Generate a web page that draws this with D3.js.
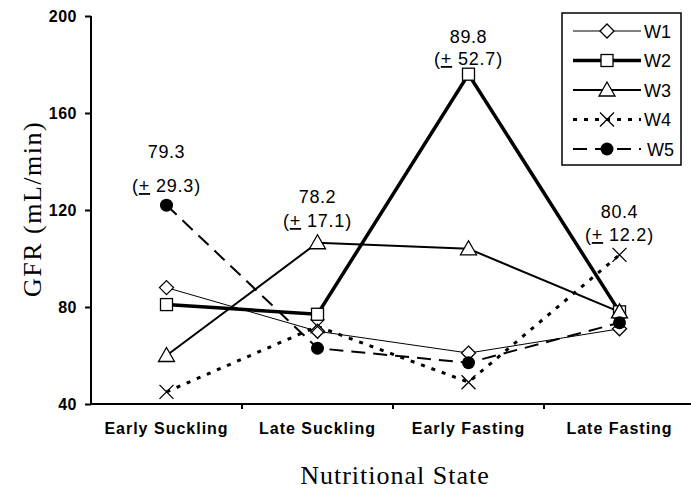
<!DOCTYPE html>
<html>
<head>
<meta charset="utf-8">
<script src="https://cdn.jsdelivr.net/npm/d3@7"></script>
<style>
  body { margin: 0; background: #fff; }
  svg { display: block; }
  .tick text { font-family: Arial, "Liberation Sans", sans-serif; font-weight: bold; }
</style>
</head>
<body>
<div id="chart"></div>
<script>
// Data
const categories = ["Early Suckling", "Late Suckling", "Early Fasting", "Late Fasting"];
const w1 = [88, 70, 61, 71];
const w2 = [81, 77, 176, 78];
const w3 = [60, 106.5, 104, 78];
const w4 = [45, 72, 49, 101.5];
const w5 = [122, 63, 57, 73.5];
const means = ["79.3", "78.2", "89.8", "80.4"];
const sds = ["29.3", "17.1", "52.7", "12.2"];
// GFR level of the label baselines (layout only)
const meanLabelAt = [141.4, 122.9, 188.9, 116.7];
const sdLabelAt = [127.4, 113, 179.8, 107.2];
const yTicks = [40, 80, 120, 160, 200];

const series = [
  { name: "W1", values: w1, width: 1, dash: null, marker: "diamond" },
  { name: "W2", values: w2, width: 3.5, dash: null, marker: "square" },
  { name: "W3", values: w3, width: 2, dash: null, marker: "triangle" },
  { name: "W4", values: w4, width: 3, dash: "4,7", marker: "x" },
  { name: "W5", values: w5, width: 2, dash: "14,8", marker: "circle" }
];

const width = 691, height = 492;
const plotLeft = 91, plotBottom = 404, plotTop = 16;

const svg = d3.select("#chart").append("svg")
  .attr("width", width)
  .attr("height", height);

const x = d3.scaleBand()
  .domain(categories)
  .range([plotLeft, plotLeft + 4 * 151]);

const y = d3.scaleLinear()
  .domain([40, 200])
  .range([plotBottom, plotTop]);

// Axes
const yAxis = svg.append("g")
  .attr("transform", `translate(${plotLeft},0)`)
  .call(d3.axisLeft(y).tickValues(yTicks).tickSize(6).tickPadding(8));
yAxis.select(".domain").attr("stroke-width", 2).attr("d", `M0,${plotBottom}V${plotTop}`);
yAxis.selectAll(".tick line").attr("stroke-width", 2);
yAxis.selectAll(".tick text")
  .attr("font-size", 16)
  .attr("letter-spacing", 0.5)
  .attr("fill", "#000");

const xAxis = svg.append("g")
  .attr("transform", `translate(0,${plotBottom})`)
  .call(d3.axisBottom(x).tickSize(0).tickPadding(19));
xAxis.select(".domain").attr("stroke-width", 2).attr("d", `M${plotLeft},0H${width}`);
xAxis.selectAll(".tick text")
  .attr("font-size", 16)
  .attr("letter-spacing", 1)
  .attr("fill", "#000");

// boundary ticks between categories
svg.append("g")
  .selectAll("line")
  .data(categories.slice(1))
  .enter().append("line")
  .attr("x1", d => x(d))
  .attr("x2", d => x(d))
  .attr("y1", plotBottom)
  .attr("y2", plotBottom + 5)
  .attr("stroke", "#000")
  .attr("stroke-width", 2);

// Axis titles
svg.append("text")
  .attr("transform", "translate(41,209) rotate(-90)")
  .attr("text-anchor", "middle")
  .attr("font-family", "'Liberation Serif', 'Times New Roman', serif")
  .attr("font-size", 26)
  .attr("letter-spacing", 1.5)
  .text("GFR (mL/min)");

svg.append("text")
  .attr("x", 395)
  .attr("y", 484)
  .attr("text-anchor", "middle")
  .attr("font-family", "'Liberation Serif', 'Times New Roman', serif")
  .attr("font-size", 26)
  .attr("letter-spacing", 1)
  .text("Nutritional State");

// Markers
function drawMarker(g, type, cx, cy) {
  if (type === "diamond") {
    g.append("path").attr("d", `M${cx},${cy - 7}L${cx + 7},${cy}L${cx},${cy + 7}L${cx - 7},${cy}Z`)
      .attr("fill", "#fff").attr("stroke", "#000").attr("stroke-width", 1.3);
  } else if (type === "square") {
    g.append("rect").attr("x", cx - 6).attr("y", cy - 6).attr("width", 12).attr("height", 12)
      .attr("fill", "#fff").attr("stroke", "#000").attr("stroke-width", 1.3);
  } else if (type === "triangle") {
    g.append("path").attr("d", `M${cx},${cy - 8}L${cx + 8},${cy + 6}L${cx - 8},${cy + 6}Z`)
      .attr("fill", "#fff").attr("stroke", "#000").attr("stroke-width", 1.3);
  } else if (type === "x") {
    g.append("path").attr("d", `M${cx - 7},${cy - 7}L${cx + 7},${cy + 7}M${cx + 7},${cy - 7}L${cx - 7},${cy + 7}`)
      .attr("fill", "none").attr("stroke", "#000").attr("stroke-width", 1.3);
  } else if (type === "circle") {
    g.append("circle").attr("cx", cx).attr("cy", cy).attr("r", 6.5).attr("fill", "#000");
  }
}

const line = d3.line()
  .x((d, i) => x(categories[i]) + x.bandwidth() / 2)
  .y(d => y(d));

series.forEach(s => {
  svg.append("path")
    .datum(s.values)
    .attr("d", line)
    .attr("fill", "none")
    .attr("stroke", "#000")
    .attr("stroke-width", s.width)
    .attr("stroke-dasharray", s.dash);
});

series.forEach(s => {
  const g = svg.append("g");
  s.values.forEach((v, i) => drawMarker(g, s.marker, x(categories[i]) + x.bandwidth() / 2, y(v)));
});

// Mean (± SD) annotations
means.forEach((m, i) => {
  const cx = x(categories[i]) + x.bandwidth() / 2;
  svg.append("text")
    .attr("x", cx).attr("y", y(meanLabelAt[i]))
    .attr("text-anchor", "middle")
    .attr("font-family", "Arial, 'Liberation Sans', sans-serif")
    .attr("font-size", 18)
    .attr("letter-spacing", 0.6)
    .text(m);
  const t = svg.append("text")
    .attr("x", cx).attr("y", y(sdLabelAt[i]))
    .attr("text-anchor", "middle")
    .attr("font-family", "Arial, 'Liberation Sans', sans-serif")
    .attr("font-size", 18)
    .attr("letter-spacing", 0.8);
  t.append("tspan").text("(");
  t.append("tspan").attr("text-decoration", "underline").text("+");
  t.append("tspan").text(" " + sds[i] + ")");
});

// Legend
const legend = svg.append("g");
legend.append("rect")
  .attr("x", 562).attr("y", 13)
  .attr("width", 119).attr("height", 152)
  .attr("fill", "#fff").attr("stroke", "#000").attr("stroke-width", 1.5);

series.forEach((s, i) => {
  const ly = 31 + i * 29.5;
  legend.append("line")
    .attr("x1", 573).attr("x2", 641)
    .attr("y1", ly).attr("y2", ly)
    .attr("stroke", "#000")
    .attr("stroke-width", s.width)
    .attr("stroke-dasharray", s.dash);
  drawMarker(legend, s.marker, 607, ly);
  legend.append("text")
    .attr("x", s.name === "W5" ? 647 : 644).attr("y", ly + 6.5)
    .attr("font-family", "Arial, 'Liberation Sans', sans-serif")
    .attr("font-size", 18)
    .text(s.name);
});
</script>
</body>
</html>
